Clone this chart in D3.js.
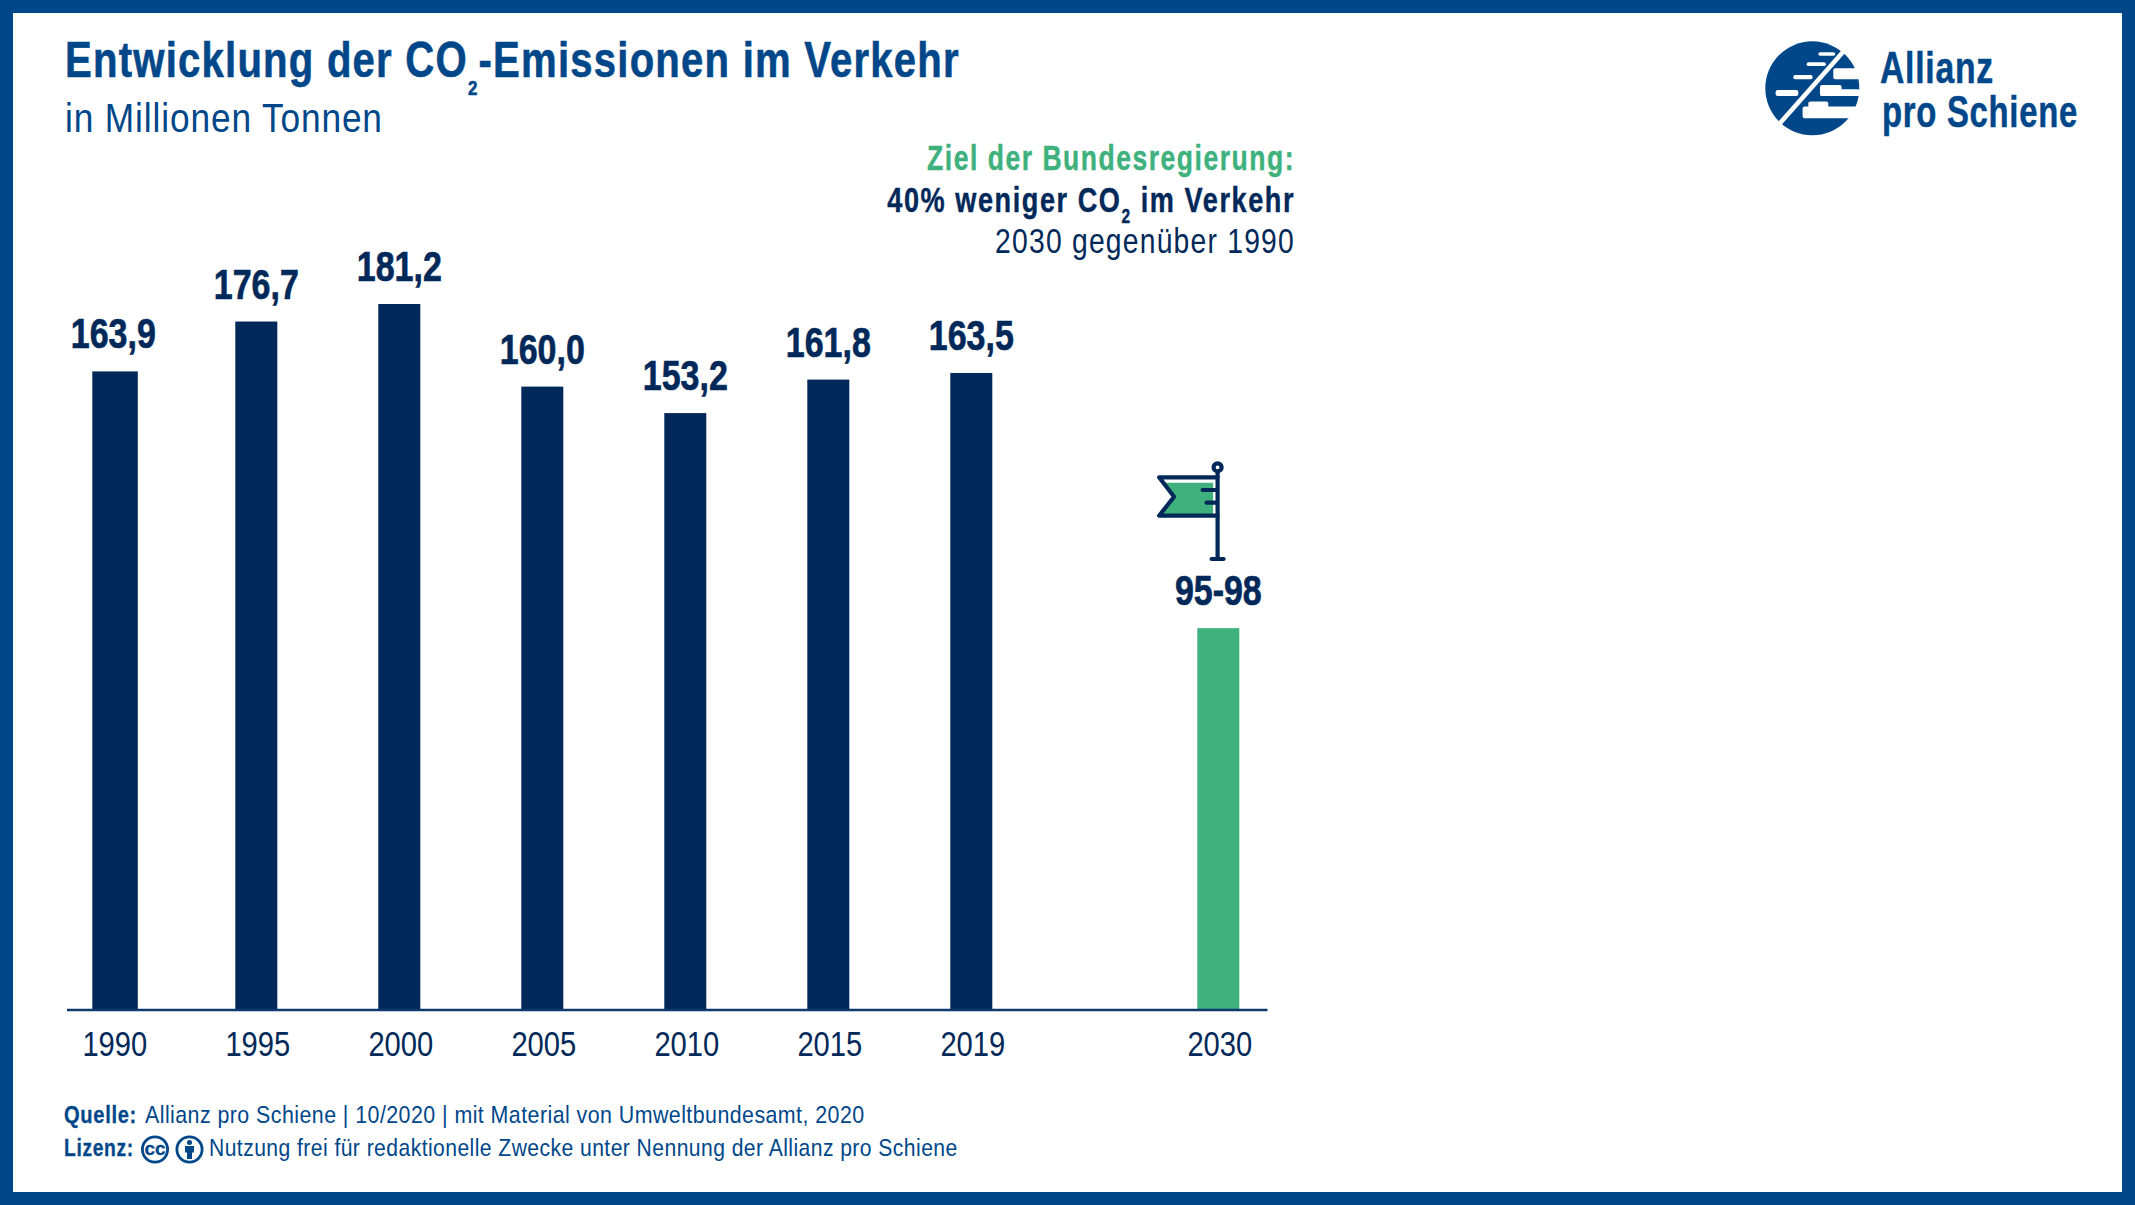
<!DOCTYPE html>
<html lang="de">
<head>
<meta charset="utf-8">
<title>Entwicklung der CO2-Emissionen im Verkehr</title>
<script src="https://cdn.jsdelivr.net/npm/d3@7"></script>
<style>
  html, body { margin: 0; padding: 0; background: #fff; }
  svg { display: block; font-family: "Liberation Sans", sans-serif; }
</style>
</head>
<body>
<svg id="chart" width="2135" height="1205" viewBox="0 0 2135 1205"></svg>
<script>
const years = [1990, 1995, 2000, 2005, 2010, 2015, 2019, 2030];
const values = [163.9, 176.7, 181.2, 160.0, 153.2, 161.8, 163.5, 98];
const valueLabels = ['163,9', '176,7', '181,2', '160,0', '153,2', '161,8', '163,5', '95-98'];
const targetYear = 2030;

const NAVY = '#002859';
const BLUE = '#00478a';
const GREEN = '#3eb17d';

const width = 2135;
const height = 1205;
const baseY = 1010;
const barW = 42;

const svg = d3.select('#chart');

// Rahmen
svg.append('rect')
  .attr('x', 6.5).attr('y', 6.5)
  .attr('width', width - 13).attr('height', height - 13)
  .attr('fill', '#fff').attr('stroke', BLUE).attr('stroke-width', 13);

// Die sieben Jahre stehen gleichmäßig, 2030 hat einen größeren Abstand
const x = d3.scaleOrdinal()
  .domain(years)
  .range(years.map((year, i) => 113.3 + 143 * i + (year === targetYear ? 104 : 0)));
const y = d3.scaleLinear().domain([0, d3.max(values)]).range([baseY, 304]);

const rows = years.map((year, i) => ({ year, value: values[i], label: valueLabels[i] }));

svg.append('g').selectAll('rect')
  .data(rows)
  .join('rect')
  .attr('x', (d) => x(d.year) - barW / 2)
  .attr('y', (d) => y(d.value))
  .attr('width', (d) => (d.year === 1990 ? barW + 3.5 : barW))
  .attr('height', (d) => baseY - y(d.value))
  .attr('fill', (d) => (d.year === targetYear ? GREEN : NAVY));

// Die Schrift im Original ist schmal: Liberation wird horizontal gestaucht
svg.append('g').selectAll('text')
  .data(rows)
  .join('text')
  .attr('transform', (d) => `translate(${x(d.year)},${y(d.value) - 23}) scale(0.79,1)`)
  .attr('text-anchor', 'middle')
  .attr('font-size', 43)
  .attr('font-weight', 700)
  .attr('fill', NAVY)
  .attr('stroke', NAVY)
  .attr('stroke-width', 0.7)
  .text((d) => d.label);

// Achse
svg.append('line')
  .attr('x1', 67).attr('x2', 1267.5)
  .attr('y1', baseY).attr('y2', baseY)
  .attr('stroke', '#0f3a70').attr('stroke-width', 2.5);

const axisG = svg.append('g')
  .attr('transform', `translate(1,${baseY})`)
  .call(d3.axisBottom(x).tickSize(0).tickPadding(0));
axisG.select('.domain').remove();
axisG.selectAll('text')
  .attr('font-family', null)
  .attr('font-size', 36)
  .attr('fill', NAVY)
  .attr('dy', null)
  .attr('y', null)
  .attr('transform', 'translate(0,45.5) scale(0.81,1)');

// Text mit Zielbreite; der Index "2" bekommt eigene Größe und Versatz
function addText(px, py, size, weight, fill, anchor, parts, target, spacing) {
  const t = svg.append('text')
    .attr('font-size', size).attr('font-weight', weight)
    .attr('fill', fill).attr('text-anchor', anchor)
    .attr('letter-spacing', spacing || 0);
  if (weight === 700) t.attr('stroke', fill).attr('stroke-width', size * 0.012);
  let back = 0;
  parts.forEach((p) => {
    const span = t.append('tspan').text(p.text);
    if (p.sub) {
      span.attr('dy', p.sub.dy).attr('font-size', p.sub.size);
      back = -p.sub.dy;
    } else if (back) {
      span.attr('dy', back);
      back = 0;
    }
  });
  const sx = target / t.node().getComputedTextLength();
  t.attr('transform', `translate(${px},${py}) scale(${sx},1)`);
  return t;
}

addText(65, 77, 50, 700, BLUE, 'start', [
  { text: 'Entwicklung der CO' }, { text: '2', sub: { dy: 18, size: 21 } }, { text: '-Emissionen im Verkehr' }
], 895, 1.5);
addText(65, 132, 40, 400, BLUE, 'start', [{ text: 'in Millionen Tonnen' }], 318, 1);

addText(1295, 170, 35, 700, GREEN, 'end', [{ text: 'Ziel der Bundesregierung:' }], 368, 2);
addText(1295, 212, 35, 700, NAVY, 'end', [
  { text: '40% weniger CO' }, { text: '2', sub: { dy: 10.7, size: 20 } }, { text: ' im Verkehr' }
], 408, 2);
addText(1295, 253, 35, 400, NAVY, 'end', [{ text: '2030 gegenüber 1990' }], 300, 1.5);

// Fahne über dem Zielbalken
const flag = svg.append('g')
  .attr('transform', `translate(${x(targetYear) - 0.7},0)`)
  .attr('fill', 'none').attr('stroke', NAVY)
  .attr('stroke-width', 4.2).attr('stroke-linecap', 'round').attr('stroke-linejoin', 'round');
flag.append('path')
  .attr('d', 'M-53,482.7 H-4.5 V515 H-56 L-43,497 Z')
  .attr('fill', GREEN).attr('stroke', 'none');
flag.append('path').attr('d', 'M0,477.3 H-58.5 L-43.5,496.7 L-58.5,515.7 H0');
flag.append('path').attr('d', 'M0,473 V559 M-6,559 H6 M-15,490 H0 M-11,502.7 H0');
flag.append('circle').attr('cy', 467.3).attr('r', 4).attr('fill', '#fff');

// Fußzeile
addText(64, 1123, 24, 700, BLUE, 'start', [{ text: 'Quelle:' }], 73, 0.8);
addText(145, 1123, 24, 400, BLUE, 'start',
  [{ text: 'Allianz pro Schiene | 10/2020 | mit Material von Umweltbundesamt, 2020' }], 720, 0.5);
addText(64, 1156, 24, 700, BLUE, 'start', [{ text: 'Lizenz:' }], 70, 0.8);
addText(209, 1156, 24, 400, BLUE, 'start',
  [{ text: 'Nutzung frei für redaktionelle Zwecke unter Nennung der Allianz pro Schiene' }], 749, 0.5);

const cc = svg.append('g').attr('transform', 'translate(155,1149.5)');
cc.append('circle').attr('r', 12.6).attr('fill', '#fff').attr('stroke', BLUE).attr('stroke-width', 2.8);
cc.append('text').attr('text-anchor', 'middle').attr('y', 5.8)
  .attr('font-size', 19).attr('font-weight', 700).attr('fill', BLUE).attr('stroke', BLUE).attr('stroke-width', 0.3).text('cc');

const person = svg.append('g').attr('transform', 'translate(189.5,1149.5)');
person.append('circle').attr('r', 12.6).attr('fill', '#fff').attr('stroke', BLUE).attr('stroke-width', 2.8);
person.append('circle').attr('cy', -7).attr('r', 2.5).attr('fill', BLUE);
person.append('path').attr('d', 'M-4.5,-3.5 H4.5 V3 H2.5 V9.5 H-2.5 V3 H-4.5 Z').attr('fill', BLUE);

// Logo: Kreis mit weißen Streifen, rechts vom Schrägstrich die Wolkenform
const logo = svg.append('g').attr('transform', 'translate(1812.3,88.3)');
logo.append('circle').attr('r', 47).attr('fill', BLUE);
const logoPills = [
  [6, -36, 17, 3.5], [-5.7, -26, 19.3, 3.7], [-19, -13.3, 19.3, 4.3], [-36.7, 1.7, 22.7, 6],
  [21, -20, 27, 11], [7.7, -3.3, 21.6, 11], [7.7, 1, 40, 6.7],
  [-4, 13.3, 20, 10], [-9.7, 18.3, 58, 11.7]
];
logo.selectAll('rect')
  .data(logoPills)
  .join('rect')
  .attr('x', (d) => d[0]).attr('y', (d) => d[1])
  .attr('width', (d) => d[2]).attr('height', (d) => d[3])
  .attr('rx', 2).attr('fill', '#fff');
logo.append('line')
  .attr('x1', -35).attr('y1', 38).attr('x2', 34).attr('y2', -40)
  .attr('stroke', '#fff').attr('stroke-width', 4.5);
addText(1880, 83.3, 44, 700, BLUE, 'start', [{ text: 'Allianz' }], 114, 1);
addText(1882, 126.7, 44, 700, BLUE, 'start', [{ text: 'pro Schiene' }], 196, 1);
</script>
</body>
</html>
